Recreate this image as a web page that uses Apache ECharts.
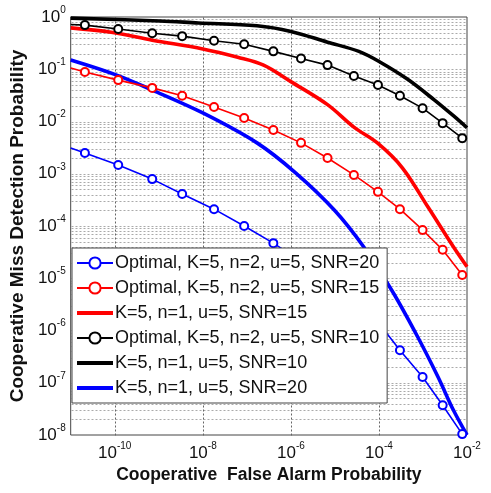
<!DOCTYPE html>
<html>
<head>
<meta charset="utf-8">
<script src="https://cdn.jsdelivr.net/npm/echarts@6/dist/echarts.min.js"></script>
<style>
  html, body { margin: 0; padding: 0; background: #fff; }
  #main { width: 491px; height: 493px; }
</style>
</head>
<body>
<div id="main"></div>
<script>
// x positions of the markers on the "Optimal" curves (first point is the line start, no marker)
var xOpt = [1e-11, 2.1e-11, 1.2e-10, 7.1e-10, 3.4e-9, 1.8e-8, 8.7e-8, 4.0e-7, 1.7e-6, 6.8e-6, 2.7e-5, 9.5e-5, 3.0e-4, 9.8e-4, 2.8e-3, 7.8e-3];
var yOptSnr20 = [3.1e-3, 2.5e-3, 1.47e-3, 7.9e-4, 4.1e-4, 2.1e-4, 1.0e-4, 4.7e-5, 2.1e-5, 9.7e-6, 4.0e-6, 1.46e-6, 4.2e-7, 1.29e-7, 3.7e-8, 1.04e-8];
var yOptSnr15 = [0.106, 0.0885, 0.062, 0.044, 0.031, 0.019, 0.0117, 0.0069, 0.0039, 0.0020, 9.5e-4, 4.5e-4, 2.1e-4, 8.4e-5, 3.5e-5, 1.15e-5];
var yOptSnr10 = [0.72, 0.70, 0.59, 0.49, 0.43, 0.35, 0.30, 0.22, 0.16, 0.12, 0.074, 0.050, 0.031, 0.018, 0.0093, 0.0048];

// n=1 curves
var xN1Snr15 = [1e-11, 8.3e-11, 7.1e-10, 1.0e-8, 6.2e-8, 2.4e-7, 1e-6, 6.8e-6, 2.7e-5, 9.5e-5, 3.4e-4, 1.3e-3, 4.9e-3, 1e-2];
var yN1Snr15 = [0.62, 0.51, 0.36, 0.245, 0.17, 0.12, 0.058, 0.021, 0.0078, 0.0038, 0.0013, 2.3e-4, 4.0e-5, 1.66e-5];
var xN1Snr10 = [1e-11, 1.06e-9, 8.0e-9, 1.7e-7, 1e-6, 6.8e-6, 3.5e-5, 1.05e-4, 4.4e-4, 1.8e-3, 4.9e-3, 1e-2];
var yN1Snr10 = [0.95, 0.84, 0.77, 0.68, 0.53, 0.33, 0.22, 0.138, 0.065, 0.026, 0.0129, 0.0076];
var xN1Snr20 = [1e-11, 1.07e-10, 7.1e-10, 1.0e-8, 1.7e-7, 1.3e-6, 9.8e-6, 4.7e-5, 2.0e-4, 7.2e-4, 2.2e-3, 4.9e-3, 1e-2];
var yN1Snr20 = [0.15, 0.078, 0.040, 0.0146, 0.0039, 1.03e-3, 2.0e-4, 3.8e-5, 5.7e-6, 8.2e-7, 1.29e-7, 3.0e-8, 1e-8];

var names = [
  'Optimal, K=5, n=2, u=5, SNR=20',
  'Optimal, K=5, n=2, u=5, SNR=15',
  'K=5, n=1, u=5, SNR=15',
  'Optimal, K=5, n=2, u=5, SNR=10',
  'K=5, n=1, u=5, SNR=10',
  'K=5, n=1, u=5, SNR=20'
];

var X_MIN = 1e-11, X_MAX = 1e-2, Y_MIN = 1e-8, Y_MAX = 1;
var FONT = '"Liberation Sans", Arial, Helvetica, sans-serif';

function pairs(xs, ys, skipFirstMarker) {
  return xs.map(function (x, i) {
    if (skipFirstMarker && i === 0) return { value: [x, ys[i]], symbol: 'none' };
    return [x, ys[i]];
  });
}

// grid: decades + 2..9 minors on y, even decades on x
var hLines = [];
for (var e = -8; e <= 0; e++) {
  for (var m = 1; m <= 9; m++) {
    var v = m * Math.pow(10, e);
    if (v >= 1) break;
    if (v > Y_MIN) hLines.push([X_MIN, v, X_MAX]);
  }
}
var vLines = [1e-10, 1e-8, 1e-6, 1e-4].map(function (v) { return [v, Y_MIN, Y_MAX]; });

function gridSeries(data, horizontal, color) {
  return {
    type: 'custom', silent: true, z: 1, data: data,
    encode: horizontal ? { x: [0, 2], y: 1 } : { x: 0, y: [1, 2] },
    renderItem: function (params, api) {
      var a, b;
      if (horizontal) {
        a = api.coord([api.value(0), api.value(1)]);
        b = api.coord([api.value(2), api.value(1)]);
      } else {
        a = api.coord([api.value(0), api.value(1)]);
        b = api.coord([api.value(0), api.value(2)]);
      }
      return {
        type: 'line',
        shape: { x1: Math.round(a[0]) + 0.5, y1: Math.round(a[1]) + 0.5, x2: Math.round(b[0]) + 0.5, y2: Math.round(b[1]) + 0.5 },
        style: { stroke: color, lineWidth: 1, lineDash: [2, 2] }
      };
    }
  };
}

function optSeries(name, ys, color) {
  return {
    name: name, type: 'line', data: pairs(xOpt, ys, true),
    symbol: 'emptyCircle', symbolSize: 8, showAllSymbol: true,
    lineStyle: { color: color, width: 1.6 },
    itemStyle: { color: color, borderColor: color, borderWidth: 1.6 },
    z: 3
  };
}
function thickSeries(name, xs, ys, color) {
  return {
    name: name, type: 'line', data: pairs(xs, ys, false),
    symbol: 'none', smooth: 0.35,
    lineStyle: { color: color, width: 3.6 },
    itemStyle: { color: color },
    z: 2
  };
}

var supLabel = {
  b: { fontSize: 17, fontFamily: FONT, color: '#111', lineHeight: 24 },
  s: { fontSize: 10, fontFamily: FONT, color: '#111', lineHeight: 7, verticalAlign: 'top' }
};

var thickIcon = 'path://M0,0 L36,0 L36,4 L0,4 Z';

var chart = echarts.init(document.getElementById('main'));
chart.setOption({
  animation: false,
  backgroundColor: '#fff',
  grid: { left: 58, top: 17, right: 24, bottom: 58, show: true, borderColor: '#444', borderWidth: 1 },
  xAxis: {
    type: 'log', min: X_MIN, max: X_MAX, logBase: 10,
    name: 'Cooperative  False Alarm Probability', nameLocation: 'middle', nameGap: 31,
    nameTextStyle: { fontSize: 17.5, fontWeight: 'bold', fontFamily: FONT, color: '#111' },
    axisLine: { show: false }, axisTick: { show: false }, splitLine: { show: false },
    axisLabel: {
      margin: 6,
      formatter: function (v) {
        var p = Math.round(Math.log10(v));
        if (p % 2 !== 0) return '';
        return '{b|10}{s|' + p + '}';
      },
      rich: supLabel
    }
  },
  yAxis: {
    type: 'log', min: Y_MIN, max: Y_MAX, logBase: 10,
    name: 'Cooperative Miss Detection Probability', nameLocation: 'middle', nameGap: 29,
    nameTextStyle: { fontSize: 19, fontWeight: 'bold', fontFamily: FONT, color: '#111' },
    axisLine: { show: false }, axisTick: { show: false }, splitLine: { show: false },
    axisLabel: {
      margin: 5,
      formatter: function (v) {
        var p = Math.round(Math.log10(v));
        return '{b|10}{s|' + p + '}';
      },
      rich: supLabel
    }
  },
  legend: {
    z: 20,
    data: [
      { name: names[0] },
      { name: names[1] },
      { name: names[2], icon: thickIcon },
      { name: names[3] },
      { name: names[4], icon: thickIcon },
      { name: names[5], icon: thickIcon }
    ],
    orient: 'vertical', left: 72, top: 248,
    backgroundColor: '#fff', borderColor: '#444', borderWidth: 1,
    padding: [5, 8, 5, 4], itemGap: 5, itemWidth: 36, itemHeight: 14,
    textStyle: { fontSize: 18, fontFamily: FONT, color: '#111', lineHeight: 20, padding: [0, 0, 0, -3] }
  },
  series: [
    gridSeries(hLines, true, '#aaa'),
    gridSeries(vLines, false, '#666'),
    optSeries(names[0], yOptSnr20, '#0000ff'),
    optSeries(names[1], yOptSnr15, '#ff0000'),
    thickSeries(names[2], xN1Snr15, yN1Snr15, '#ff0000'),
    optSeries(names[3], yOptSnr10, '#000000'),
    thickSeries(names[4], xN1Snr10, yN1Snr10, '#000000'),
    thickSeries(names[5], xN1Snr20, yN1Snr20, '#0000ff')
  ]
});
</script>
</body>
</html>
